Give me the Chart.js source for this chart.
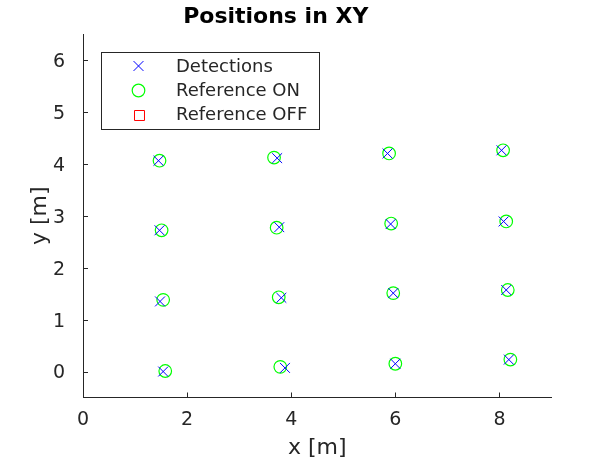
<!DOCTYPE html>
<html>
<head>
<meta charset="utf-8">
<script src="https://cdn.jsdelivr.net/npm/chart.js@4.4.1/dist/chart.umd.min.js"></script>
<style>
  html, body { margin: 0; padding: 0; background: #fff; }
  #wrap { width: 613px; height: 459px; }
</style>
</head>
<body>
<div id="wrap"><canvas id="c" width="613" height="459"></canvas></div>
<script>
// ---- data ----
const detX = [1.45, 1.47, 1.48, 1.54, 3.73, 3.77, 3.81, 3.88, 5.85, 5.91, 5.96, 6.00, 8.04, 8.08, 8.13, 8.18];
const detY = [4.06, 2.72, 1.35, 0.00, 4.11, 2.78, 1.42, 0.07, 4.20, 2.84, 1.51, 0.15, 4.26, 2.89, 1.57, 0.23];
const refOnX = [1.47, 1.51, 1.54, 1.58, 3.67, 3.72, 3.76, 3.79, 5.88, 5.92, 5.96, 6.00, 8.07, 8.13, 8.16, 8.21];
const refOnY = [4.06, 2.72, 1.38, 0.01, 4.12, 2.77, 1.43, 0.09, 4.20, 2.85, 1.51, 0.15, 4.26, 2.89, 1.57, 0.23];
const refOffX = [];
const refOffY = [];
const seriesNames = ['Detections', 'Reference ON', 'Reference OFF'];
const xTicks = [0, 2, 4, 6, 8];
const yTicks = [0, 1, 2, 3, 4, 5, 6];

const toPts = (xs, ys) => xs.map((x, i) => ({x: x, y: ys[i]}));

const AX = '#262626';
const FONT = "'DejaVu Sans', sans-serif";

// inward tick marks (MATLAB style)
const innerTicks = {
  id: 'innerTicks',
  afterDraw(chart) {
    const {ctx, chartArea: a, scales: {x, y}} = chart;
    ctx.save();
    ctx.strokeStyle = AX;
    ctx.lineWidth = 1;
    ctx.beginPath();
    xTicks.forEach(v => {
      const px = Math.round(x.getPixelForValue(v)) + 0.5;
      ctx.moveTo(px, a.bottom);
      ctx.lineTo(px, a.bottom - 5);
    });
    yTicks.forEach(v => {
      const py = Math.round(y.getPixelForValue(v)) + 0.5;
      ctx.moveTo(a.left, py);
      ctx.lineTo(a.left + 5, py);
    });
    ctx.stroke();
    ctx.restore();
  }
};

// legend box inside the axes
const boxLegend = {
  id: 'boxLegend',
  afterDraw(chart) {
    const {ctx, chartArea: a} = chart;
    const L = a.left + 18, T = a.top + 18, W = 218, H = 77;
    ctx.save();
    ctx.fillStyle = '#fff';
    ctx.fillRect(L, T, W, H);
    ctx.strokeStyle = AX;
    ctx.lineWidth = 1;
    ctx.strokeRect(Math.round(L) + 0.5, Math.round(T) + 0.5, W, H);
    const rows = [T + 14, T + 38.5, T + 62.5];
    chart.data.datasets.forEach((ds, i) => {
      const crisp = ds.pointStyle === 'rect';
      const cy = crisp ? Math.round(rows[i]) + 0.5 : rows[i];
      const cx = crisp ? Math.round(L + 37.5) + 0.5 : L + 37.5;
      ctx.save();
      ctx.strokeStyle = ds.borderColor;
      ctx.fillStyle = 'rgba(0,0,0,0)';
      ctx.lineWidth = ds.borderWidth;
      Chart.helpers.drawPoint(ctx, {pointStyle: ds.pointStyle, radius: ds.pointRadius, rotation: 0, borderWidth: ds.borderWidth}, cx, cy);
      ctx.restore();
      ctx.fillStyle = AX;
      ctx.font = '18px ' + FONT;
      ctx.textBaseline = 'middle';
      ctx.textAlign = 'left';
      ctx.fillText(ds.label, L + 75, rows[i] + 1);
    });
    ctx.restore();
  }
};

new Chart(document.getElementById('c'), {
  type: 'scatter',
  data: {
    datasets: [
      { label: seriesNames[0], data: toPts(detX, detY), pointStyle: 'crossRot', pointRadius: 7, borderColor: '#0000ff', backgroundColor: 'rgba(0,0,0,0)', borderWidth: 1 },
      { label: seriesNames[1], data: toPts(refOnX, refOnY), pointStyle: 'circle', pointRadius: 6.3, borderColor: '#00ff00', backgroundColor: 'rgba(0,0,0,0)', borderWidth: 1.2 },
      { label: seriesNames[2], data: toPts(refOffX, refOffY), pointStyle: 'rect', pointRadius: 7.07, borderColor: '#ff0000', backgroundColor: 'rgba(0,0,0,0)', borderWidth: 1 }
    ]
  },
  options: {
    responsive: false,
    animation: false,
    events: [],
    layout: { padding: { left: 0, right: 61.5, top: 0, bottom: 0 } },
    plugins: {
      legend: { display: false },
      tooltip: { enabled: false },
      title: {
        display: true,
        text: 'Positions in XY',
        color: '#000',
        font: { family: FONT, size: 22, weight: 'bold', lineHeight: 1.2 },
        padding: { top: 4, bottom: 3.6 }
      }
    },
    scales: {
      x: {
        type: 'linear',
        min: 0, max: 9,
        afterBuildTicks(s) { s.ticks = xTicks.map(v => ({value: v})); },
        afterFit(s) { s.height = 61.5; },
        grid: { display: false },
        border: { display: true, color: AX, width: 1 },
        ticks: { color: AX, font: { family: FONT, size: 19 }, padding: 3, maxRotation: 0 },
        title: { display: true, text: 'x [m]', color: AX, font: { family: FONT, size: 22, lineHeight: 1.0 }, padding: { top: 0, bottom: 0 } }
      },
      y: {
        type: 'linear',
        min: -0.5, max: 6.5,
        afterBuildTicks(s) { s.ticks = yTicks.map(v => ({value: v})); },
        afterFit(s) { s.width = 83; },
        grid: { display: false },
        border: { display: true, color: AX, width: 1 },
        ticks: { color: AX, font: { family: FONT, size: 19 }, padding: 10, labelOffset: 2 },
        title: { display: true, text: 'y [m]', color: AX, font: { family: FONT, size: 22 }, padding: { top: 27, bottom: 0 } }
      }
    }
  },
  plugins: [innerTicks, boxLegend]
});
</script>
</body>
</html>
